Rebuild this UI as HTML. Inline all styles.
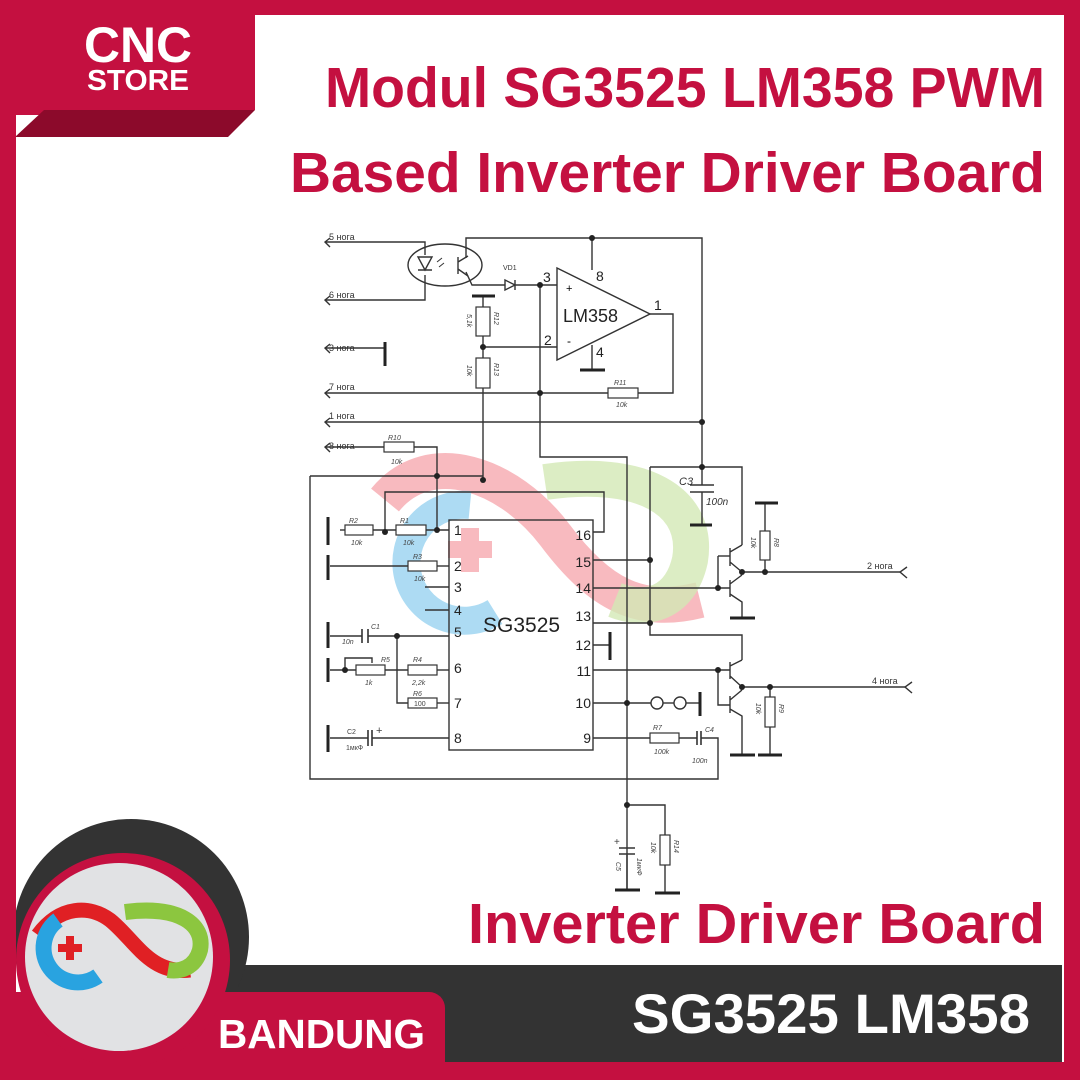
<!DOCTYPE html>
<html><head><meta charset="utf-8"><style>
html,body{margin:0;padding:0;background:#fff}
svg{display:block}
.t{font-family:"Liberation Sans",sans-serif;font-weight:bold}
.s{font-family:"Liberation Sans",sans-serif}
.w{stroke:#333;stroke-width:1.4;fill:none}
.g{stroke:#222;stroke-width:3;fill:none}
.r{fill:#fff;stroke:#333;stroke-width:1.2}
.l{font-family:"Liberation Sans",sans-serif;font-size:9px;fill:#333}
.li{font-family:"Liberation Sans",sans-serif;font-size:7px;font-style:italic;fill:#444}
.p{font-family:"Liberation Sans",sans-serif;font-size:14px;fill:#222}
</style></head><body>
<svg width="1080" height="1080" viewBox="0 0 1080 1080" xmlns="http://www.w3.org/2000/svg">
<rect width="1080" height="1080" fill="#c41040"/>
<rect x="16" y="15" width="1048" height="1047" fill="#fff"/>
<!-- CNC store block -->
<rect x="16" y="15" width="28" height="100" fill="#c41040"/>
<polygon points="15,137 44,110 255,110 228,137" fill="#8c0a2b"/>
<rect x="44" y="15" width="211" height="95" fill="#c41040"/>
<text x="138" y="62" class="t" font-size="50" fill="#fff" text-anchor="middle" textLength="108" lengthAdjust="spacingAndGlyphs">CNC</text>
<text x="138" y="90" class="t" font-size="29" fill="#fff" text-anchor="middle" textLength="102" lengthAdjust="spacingAndGlyphs">STORE</text>
<!-- titles -->
<text x="325" y="107" class="t" font-size="57" fill="#c41040" textLength="720" lengthAdjust="spacingAndGlyphs">Modul SG3525 LM358 PWM</text>
<text x="290" y="192" class="t" font-size="57" fill="#c41040" textLength="755" lengthAdjust="spacingAndGlyphs">Based Inverter Driver Board</text>
<text x="468" y="943" class="t" font-size="57" fill="#c41040" textLength="577" lengthAdjust="spacingAndGlyphs">Inverter Driver Board</text>

<!-- watermark -->
<g opacity="0.38">
<path d="M385,500 C430,445 510,475 555,535 C600,595 640,615 700,600" stroke="#ee4b5a" stroke-width="36" fill="none"/>
<path d="M470,505 A58,58 0 1 0 495,612" stroke="#29a3e0" stroke-width="28" fill="none"/>
<path d="M545,482 C640,468 700,500 690,560 C680,605 645,612 615,600" stroke="#8cc63f" stroke-width="36" fill="none" opacity="0.8"/>
<rect x="448" y="541" width="44" height="17" fill="#ee4b5a"/><rect x="461" y="528" width="18" height="44" fill="#ee4b5a"/>
</g>

<!-- schematic wires -->
<g class="w">
<path d="M325,242 H425 V255"/><path d="M325,300 H425 V275"/>
<path d="M466,258 V238 H702 V467"/><path d="M592,238 V270"/>
<path d="M466,272 L472,285 H505"/><path d="M515,285 H557"/>
<path d="M483,296 V307"/><path d="M483,336 V358"/><path d="M483,388 V480"/>
<path d="M483,347 H557"/>
<path d="M650,314 H673 V393 H638"/><path d="M608,393 H325"/>
<path d="M592,345 V370"/>
<path d="M325,348 H385"/>
<path d="M325,422 H702"/>
<path d="M325,447 H384"/><path d="M414,447 H437 V530"/>
<path d="M540,285 V457 H627 V890"/>
<path d="M310,476 H483"/><path d="M310,476 V779 H718 V738 H701"/>
<path d="M385,532 V492 H604 V532 H593"/>
<path d="M340,530 H345"/><path d="M373,530 H396"/><path d="M426,530 H449"/>
<path d="M330,566 H408"/><path d="M437,566 H449"/>
<path d="M425,587 H449"/><path d="M425,610 H449"/>
<path d="M330,636 H362"/><path d="M368,636 H449"/><path d="M397,636 V703 H408"/><path d="M437,703 H449"/>
<path d="M330,670 H356"/><path d="M385,670 H408"/><path d="M437,670 H449"/><path d="M345,670 V658 H372 V663"/>
<path d="M330,738 H368"/><path d="M372,738 H449"/>
<path d="M593,560 H650"/><path d="M593,588 H718"/><path d="M593,623 H650"/>
<path d="M650,467 H742 V545"/><path d="M650,467 V635 H742 V660"/>
<path d="M702,467 V485"/><path d="M702,492 V525"/>
<path d="M593,645 H610"/><path d="M593,670 H730"/>
<path d="M593,703 H651"/><path d="M663,703 H674"/><path d="M686,703 H700"/>
<path d="M593,738 H650"/><path d="M679,738 H697"/>
<path d="M718,556 V588 H730"/><path d="M718,556 H730"/><path d="M718,670 V705 H730"/>
<path d="M742,572 H900"/><path d="M742,687 H905"/>
<path d="M765,503 V531"/><path d="M765,560 V572"/>
<path d="M770,687 V697"/><path d="M770,727 V755"/>
<path d="M627,805 H665 V835"/><path d="M665,865 V893"/>
<path d="M627,855 V890"/>
<path d="M730,548 V566 M730,552 L742,545 M730,562 L742,572"/>
<path d="M730,580 V597 M730,584 L742,575 M730,594 L742,602 V618"/>
<path d="M730,662 V679 M730,666 L742,660 M730,676 L742,687"/>
<path d="M730,696 V713 M730,700 L742,690 M730,709 L742,716 V755"/>
<path d="M330,238 L325,242 L330,247 M330,296 L325,300 L330,305 M330,344 L325,348 L330,353 M330,389 L325,393 L330,398 M330,418 L325,422 L330,427 M330,443 L325,447 L330,452"/>
<path d="M907,567 L900,572 L907,578 M912,682 L905,687 L912,693"/>
</g>
<!-- opto -->
<ellipse cx="445" cy="265" rx="37" ry="21" class="w"/>
<path d="M418,257 H432 L425,270 Z M418,270 H432" class="w"/>
<path d="M437,262 l5,-4 M439,267 l5,-4" stroke="#333" stroke-width="1"/>
<path d="M458,257 V274 M458,262 L468,256 M458,269 L468,276" class="w"/>
<path d="M505,280 V290 L515,285 Z M515,280 V290" class="w" fill="#fff"/>
<!-- opamp -->
<polygon points="557,268 557,360 650,314" fill="#fff" stroke="#333" stroke-width="1.4"/>
<text x="563" y="322" class="s" font-size="18" fill="#222">LM358</text>
<text x="566" y="292" class="s" font-size="11">+</text><text x="567" y="345" class="s" font-size="12">-</text>
<text x="543" y="282" class="p">3</text><text x="544" y="345" class="p">2</text><text x="596" y="281" class="p">8</text><text x="596" y="357" class="p">4</text><text x="654" y="310" class="p">1</text>
<!-- grounds -->
<g class="g">
<path d="M472,296 H495"/><path d="M580,370 H605"/><path d="M385,342 V366"/>
<path d="M328,517 V545"/><path d="M328,555 V580"/><path d="M328,622 V648"/><path d="M328,658 V682"/><path d="M328,725 V752"/>
<path d="M690,525 H712"/><path d="M610,632 V660"/><path d="M700,692 V716"/>
<path d="M755,503 H778"/><path d="M730,618 H755"/><path d="M730,755 H755"/><path d="M758,755 H782"/>
<path d="M655,893 H680"/><path d="M615,890 H640"/>
</g>
<g stroke="#333" stroke-width="1.6">
<path d="M690,485 H714 M690,492 H714"/>
<path d="M362,629 V643 M368,629 V643"/>
<path d="M368,730 V746 M372,730 V746"/>
<path d="M697,731 V745 M701,731 V745"/>
<path d="M619,848 H635 M619,854 H635"/>
</g>
<rect x="476" y="307" width="14" height="29" class="r"/><rect x="476" y="358" width="14" height="30" class="r"/>
<rect x="608" y="388" width="30" height="10" class="r"/><rect x="384" y="442" width="30" height="10" class="r"/>
<rect x="345" y="525" width="28" height="10" class="r"/><rect x="396" y="525" width="30" height="10" class="r"/>
<rect x="408" y="561" width="29" height="10" class="r"/><rect x="356" y="665" width="29" height="10" class="r"/>
<rect x="408" y="665" width="29" height="10" class="r"/><rect x="408" y="698" width="29" height="10" class="r"/>
<rect x="650" y="733" width="29" height="10" class="r"/>
<rect x="760" y="531" width="10" height="29" class="r"/><rect x="765" y="697" width="10" height="30" class="r"/>
<rect x="660" y="835" width="10" height="30" class="r"/>
<circle cx="657" cy="703" r="6" class="w" fill="#fff"/><circle cx="680" cy="703" r="6" class="w" fill="#fff"/>
<rect x="449" y="520" width="144" height="230" fill="none" stroke="#333" stroke-width="1.4"/>
<text x="483" y="632" class="s" font-size="21" fill="#222">SG3525</text>
<g class="p">
<text x="454" y="535">1</text><text x="454" y="571">2</text><text x="454" y="592">3</text><text x="454" y="615">4</text><text x="454" y="637">5</text><text x="454" y="673">6</text><text x="454" y="708">7</text><text x="454" y="743">8</text>
<text x="591" y="540" text-anchor="end">16</text><text x="591" y="567" text-anchor="end">15</text><text x="591" y="593" text-anchor="end">14</text><text x="591" y="621" text-anchor="end">13</text><text x="591" y="650" text-anchor="end">12</text><text x="591" y="676" text-anchor="end">11</text><text x="591" y="708" text-anchor="end">10</text><text x="591" y="743" text-anchor="end">9</text>
</g>
<g fill="#222">
<circle cx="592" cy="238" r="3"/><circle cx="540" cy="285" r="3"/><circle cx="483" cy="347" r="3"/><circle cx="540" cy="393" r="3"/><circle cx="702" cy="422" r="3"/><circle cx="483" cy="480" r="3"/><circle cx="437" cy="476" r="3"/>
<circle cx="385" cy="532" r="3"/><circle cx="437" cy="530" r="3"/><circle cx="397" cy="636" r="3"/><circle cx="345" cy="670" r="3"/>
<circle cx="650" cy="560" r="3"/><circle cx="718" cy="588" r="3"/><circle cx="650" cy="623" r="3"/><circle cx="702" cy="467" r="3"/>
<circle cx="742" cy="572" r="3"/><circle cx="765" cy="572" r="3"/><circle cx="718" cy="670" r="3"/><circle cx="742" cy="687" r="3"/><circle cx="770" cy="687" r="3"/>
<circle cx="627" cy="703" r="3"/><circle cx="627" cy="805" r="3"/>
</g>
<g class="l">
<text x="329" y="240">5 нога</text><text x="329" y="298">6 нога</text><text x="329" y="351">3 нога</text><text x="329" y="390">7 нога</text><text x="329" y="419">1 нога</text><text x="329" y="449">8 нога</text>
<text x="867" y="569">2 нога</text><text x="872" y="684">4 нога</text>
<text x="503" y="270" font-size="7">VD1</text>
<text x="679" y="485" font-size="11" font-style="italic">C3</text><text x="706" y="505" font-size="10" font-style="italic">100n</text>
</g>
<g class="li">
<text x="614" y="385">R11</text><text x="616" y="407">10k</text>
<text x="388" y="440">R10</text><text x="391" y="464">10k</text>
<text x="349" y="523">R2</text><text x="351" y="545">10k</text><text x="400" y="523">R1</text><text x="403" y="545">10k</text>
<text x="413" y="559">R3</text><text x="414" y="581">10k</text>
<text x="371" y="629">C1</text><text x="342" y="644">10n</text>
<text x="381" y="662">R5</text><text x="365" y="685">1k</text><text x="413" y="662">R4</text><text x="412" y="685">2,2k</text><text x="413" y="696">R6</text><text x="414" y="706" font-style="normal">100</text>
<text x="347" y="734" font-style="normal">C2</text><text x="346" y="750" font-style="normal">1мкФ</text><text x="376" y="734" font-size="11" font-style="normal">+</text>
<text x="653" y="730">R7</text><text x="654" y="754">100k</text><text x="705" y="732">C4</text><text x="692" y="763">100n</text>
<text x="614" y="845" font-size="10" font-style="normal">+</text>
<text transform="translate(494,312) rotate(90)">R12</text><text transform="translate(467,314) rotate(90)">5,1k</text>
<text transform="translate(494,363) rotate(90)">R13</text><text transform="translate(467,365) rotate(90)">10k</text>
<text transform="translate(774,538) rotate(90)">R8</text><text transform="translate(751,537) rotate(90)">10k</text>
<text transform="translate(779,704) rotate(90)">R9</text><text transform="translate(756,703) rotate(90)">10k</text>
<text transform="translate(674,840) rotate(90)">R14</text><text transform="translate(651,842) rotate(90)">10k</text>
<text transform="translate(616,862) rotate(90)">C5</text><text transform="translate(637,858) rotate(90)">1мкФ</text>
</g>
<!-- bottom -->
<rect x="200" y="965" width="862" height="97" fill="#333"/>
<circle cx="131" cy="937" r="118" fill="#333"/>
<rect x="0" y="992" width="445" height="88" rx="16" fill="#c41040"/>
<rect x="0" y="1062" width="1080" height="18" fill="#c41040"/>
<rect x="0" y="15" width="16" height="1065" fill="#c41040"/>
<circle cx="123" cy="960" r="107" fill="#c41040"/>
<circle cx="119" cy="957" r="94" fill="#e1e2e4"/>
<path d="M38,935 C60,905 90,905 110,920 C135,940 150,975 190,970" stroke="#e02024" stroke-width="15" fill="none"/>
<path d="M58,920 A32,32 0 1 0 98,976" stroke="#29a3e0" stroke-width="16" fill="none"/>
<path d="M125,912 C180,905 205,925 200,950 C195,968 180,972 168,970" stroke="#8cc63f" stroke-width="16" fill="none"/>
<rect x="58" y="944" width="24" height="8" fill="#e02024"/><rect x="66" y="936" width="8" height="24" fill="#e02024"/>
<text x="218" y="1048" class="t" font-size="41" fill="#fff" textLength="207" lengthAdjust="spacingAndGlyphs">BANDUNG</text>
<text x="632" y="1033" class="t" font-size="56" fill="#fff" textLength="398" lengthAdjust="spacingAndGlyphs">SG3525 LM358</text>
</svg>
</body></html>
